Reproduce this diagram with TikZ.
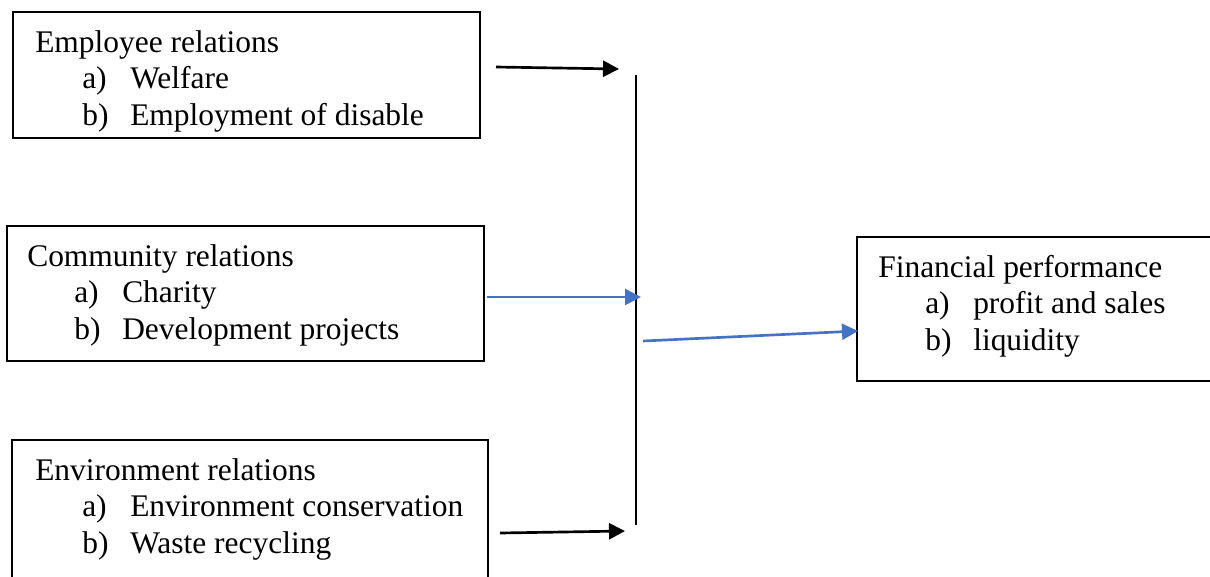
\documentclass[tikz,border=0pt]{standalone}
\usepackage{fontspec}
\setmainfont{Liberation Serif}
\usepackage{tikz}
\definecolor{arrowblue}{RGB}{68, 114, 196}
\usetikzlibrary{arrows.meta}
\newcommand{\listitem}[2]{\hspace*{35.25pt}\makebox[36pt][l]{#1}#2}

\begin{document}
\begin{tikzpicture}[x=0.75pt, y=-0.75pt,
				box/.style={draw, line width=1.1pt, inner sep=0pt, outer sep=0pt, anchor=north west},
				boxtext/.style={anchor=north west, inner sep=0pt, align=left},
				>={Triangle[length=12pt, width=12pt]},   %Pfeilspitzen
				font=\fontsize{23.6}{27.4}\selectfont]
				\useasboundingbox (0,0) rectangle (1210,576);
				\clip (0,0) rectangle (1210,576); %Bildbereich
				% Kaesten zeichnen
				\node[box, minimum width=350.25pt, minimum height=94.5pt] (emp) at (13,12) {};
				\node[boxtext] (empText) at ([shift={(22,14.4)}]emp.north west) {\strut Employee relations\\ \listitem{a)}{Welfare}\\ \listitem{b)}{Employment of disable}};
				\node[box, minimum width=357.75pt, minimum height=101.25pt] (com) at (7,226) {};
				\node[boxtext] (comText) at ([shift={(20,14.4)}]com.north west) {\strut Community relations\\ \listitem{a)}{Charity}\\ \listitem{b)}{Development projects}};
				\node[box, minimum width=357pt, minimum height=112.5pt] (env) at (12,440) {};
				\node[boxtext] (envText) at ([shift={(23,14.4)}]env.north west) {\strut Environment relations\\ \listitem{a)}{Environment conservation}\\ \listitem{b)}{Waste recycling}};
				\node[box, minimum width=285pt, minimum height=108pt] (fin) at (857,237) {};
				\node[boxtext] (finText) at ([shift={(21,14.4)}]fin.north west) {\strut Financial performance\\ \listitem{a)}{profit and sales}\\ \listitem{b)}{liquidity}};
				% Sammellinie
				\coordinate (joinTop) at (636,75);
				\coordinate (joinBot) at (636,525);
				\draw[line width=1pt] (joinTop) -- (joinBot);
				% Pfeile zeichnen
				\coordinate (empOut) at (496,67);
				\coordinate (empIn) at (619,69);
				\coordinate (comOut) at (487,297);
				\coordinate (comIn) at (641,297);
				\coordinate (envOut) at (500,533);
				\coordinate (envIn) at (625,531);
				\coordinate (finOut) at (643,341);
				\coordinate (finIn) at (858,331);
				\draw[->, line width=2pt] (empOut) -- (empIn);
				\draw[->, line width=2pt] (envOut) -- (envIn);
				\draw[->, line width=2pt, arrowblue] (comOut) -- (comIn);
				\draw[->, line width=2pt, arrowblue] (finOut) -- (finIn);
			\end{tikzpicture}
\end{document}
